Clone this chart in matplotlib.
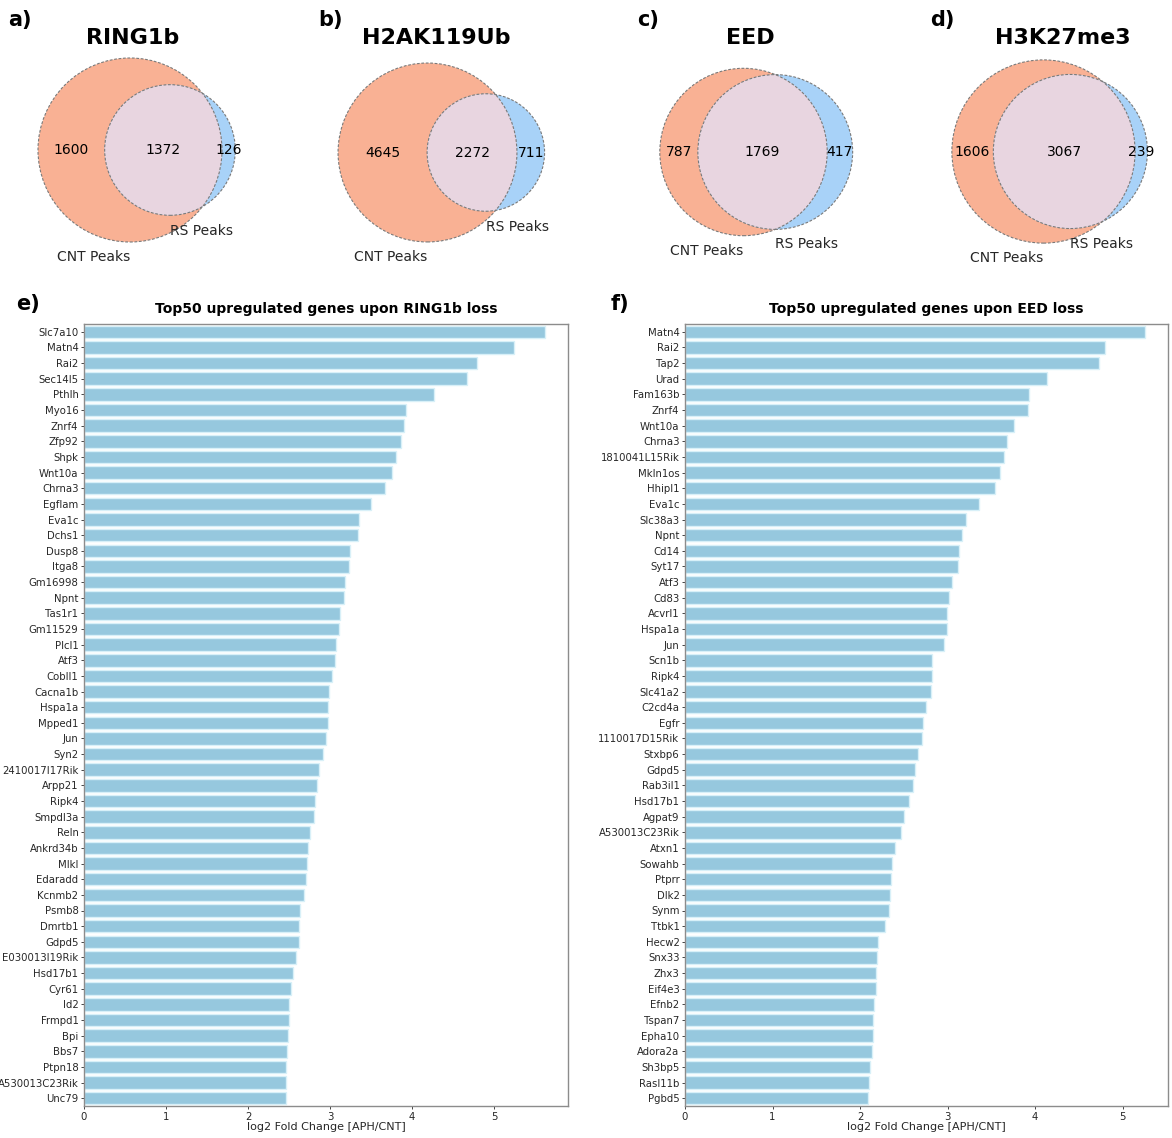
import numpy as np
import matplotlib
matplotlib.use("Agg")
import matplotlib.pyplot as plt
from matplotlib.patches import Circle

# Venn data: CNT-only, shared, RS-only peak counts
venn_titles = ['RING1b', 'H2AK119Ub', 'EED', 'H3K27me3']
venn_letters = ['a)', 'b)', 'c)', 'd)']
cnt_only = [1600, 4645, 787, 1606]
shared = [1372, 2272, 1769, 3067]
rs_only = [126, 711, 417, 239]

# top50 upregulated genes upon RING1b loss
ring1b_genes = ['Slc7a10', 'Matn4', 'Rai2', 'Sec14l5', 'Pthlh', 'Myo16', 'Znrf4', 'Zfp92',
                'Shpk', 'Wnt10a', 'Chrna3', 'Egflam', 'Eva1c', 'Dchs1', 'Dusp8', 'Itga8',
                'Gm16998', 'Npnt', 'Tas1r1', 'Gm11529', 'Plcl1', 'Atf3', 'Cobll1', 'Cacna1b',
                'Hspa1a', 'Mpped1', 'Jun', 'Syn2', '2410017I17Rik', 'Arpp21', 'Ripk4',
                'Smpdl3a', 'Reln', 'Ankrd34b', 'Mlkl', 'Edaradd', 'Kcnmb2', 'Psmb8', 'Dmrtb1',
                'Gdpd5', 'E030013I19Rik', 'Hsd17b1', 'Cyr61', 'Id2', 'Frmpd1', 'Bpi', 'Bbs7',
                'Ptpn18', 'A530013C23Rik', 'Unc79']
ring1b_lfc = [5.62, 5.245, 4.79, 4.665, 4.265, 3.925, 3.905, 3.865,
              3.81, 3.75, 3.665, 3.495, 3.355, 3.34, 3.24, 3.23,
              3.18, 3.17, 3.125, 3.11, 3.07, 3.055, 3.025, 2.985,
              2.98, 2.97, 2.955, 2.91, 2.87, 2.84, 2.82,
              2.81, 2.76, 2.73, 2.72, 2.705, 2.685, 2.63, 2.625,
              2.62, 2.59, 2.545, 2.525, 2.505, 2.5, 2.49, 2.48,
              2.465, 2.465, 2.463]

# top50 upregulated genes upon EED loss
eed_genes = ['Matn4', 'Rai2', 'Tap2', 'Urad', 'Fam163b', 'Znrf4', 'Wnt10a', 'Chrna3',
             '1810041L15Rik', 'Mkln1os', 'Hhipl1', 'Eva1c', 'Slc38a3', 'Npnt', 'Cd14',
             'Syt17', 'Atf3', 'Cd83', 'Acvrl1', 'Hspa1a', 'Jun', 'Scn1b', 'Ripk4', 'Slc41a2',
             'C2cd4a', 'Egfr', '1110017D15Rik', 'Stxbp6', 'Gdpd5', 'Rab3il1', 'Hsd17b1',
             'Agpat9', 'A530013C23Rik', 'Atxn1', 'Sowahb', 'Ptprr', 'Dlk2', 'Synm', 'Ttbk1',
             'Hecw2', 'Snx33', 'Zhx3', 'Eif4e3', 'Efnb2', 'Tspan7', 'Epha10', 'Adora2a',
             'Sh3bp5', 'Rasl11b', 'Pgbd5']
eed_lfc = [5.255, 4.8, 4.73, 4.135, 3.935, 3.915, 3.76, 3.675,
           3.645, 3.595, 3.54, 3.36, 3.215, 3.17, 3.135,
           3.115, 3.05, 3.02, 2.995, 2.99, 2.96, 2.825, 2.82, 2.81,
           2.75, 2.715, 2.705, 2.665, 2.63, 2.61, 2.555,
           2.505, 2.47, 2.4, 2.37, 2.35, 2.34, 2.335, 2.285,
           2.205, 2.195, 2.18, 2.178, 2.16, 2.152, 2.15, 2.14,
           2.115, 2.1, 2.085]

W, H = 1172, 1138
fig = plt.figure(figsize=(W / 100, H / 100), dpi=100)


def px_rect(left, top, width, height):
    return [left / W, 1 - (top + height) / H, width / W, height / H]


def lens_area(r1, r2, d):
    if d >= r1 + r2:
        return 0.0
    if d <= abs(r1 - r2):
        return np.pi * min(r1, r2) ** 2
    a1 = r1 ** 2 * np.arccos((d * d + r1 * r1 - r2 * r2) / (2 * d * r1))
    a2 = r2 ** 2 * np.arccos((d * d + r2 * r2 - r1 * r1) / (2 * d * r2))
    k = 0.5 * np.sqrt((-d + r1 + r2) * (d + r1 - r2) * (d - r1 + r2) * (d + r1 + r2))
    return a1 + a2 - k


def solve_distance(r1, r2, target):
    lo, hi = abs(r1 - r2), r1 + r2
    for _ in range(100):
        mid = (lo + hi) / 2
        if lens_area(r1, r2, mid) > target:
            lo = mid
        else:
            hi = mid
    return (lo + hi) / 2


c_cnt, c_rs, c_both = '#f9b194', '#a8d2f8', '#e8d5e0'


def venn(cx, cy, scale, a_only, ab, b_only):
    # areas normalised to 1, scale = px per unit
    total = a_only + ab + b_only
    ra = np.sqrt((a_only + ab) / total / np.pi)
    rb = np.sqrt((b_only + ab) / total / np.pi)
    d = solve_distance(ra, rb, ab / total)
    x0, x1 = -ra - 0.1, max(ra, d + rb) + 0.1
    y0, y1 = -max(ra, rb) - 0.1, max(ra, rb) + 0.1
    ax = fig.add_axes(px_rect(cx + x0 * scale, cy - y1 * scale,
                              (x1 - x0) * scale, (y1 - y0) * scale))
    ax.set_xlim(x0, x1)
    ax.set_ylim(y0, y1)
    ax.set_aspect('equal')
    ax.axis('off')

    circ_a = Circle((0, 0), ra, facecolor=c_cnt, edgecolor='none')
    ax.add_patch(circ_a)
    ax.add_patch(Circle((d, 0), rb, facecolor=c_rs, edgecolor='none'))
    inter = Circle((d, 0), rb, facecolor=c_both, edgecolor='none')
    ax.add_patch(inter)
    inter.set_clip_path(circ_a)
    for c, r in [(0, ra), (d, rb)]:
        ax.add_patch(Circle((c, 0), r, fill=False, edgecolor='#7a7a7a',
                            linewidth=0.8, linestyle=(0, (2.5, 1.5))))

    ax.text((-ra + d - rb) / 2, 0, str(a_only), ha='center', va='center', fontsize=10)
    ax.text((d - rb + ra) / 2, 0, str(ab), ha='center', va='center', fontsize=10)
    ax.text((ra + d + rb) / 2, 0, str(b_only), ha='center', va='center', fontsize=10)
    ax.text(0, -ra - 0.05, 'CNT Peaks', ha='right', va='top', fontsize=10, color='#262626')
    ax.text(d, -rb - 0.05, 'RS Peaks', ha='left', va='top', fontsize=10, color='#262626')


venn_centers = [(130, 150), (427.5, 152.5), (743.5, 152), (1043.5, 151.5)]
venn_scales = [166.5, 166.5, 160, 166.5]
title_x = [133, 436, 750, 1063]
letter_x = [20, 330, 648, 942]
for i in range(4):
    venn(venn_centers[i][0], venn_centers[i][1], venn_scales[i],
         cnt_only[i], shared[i], rs_only[i])
    fig.text(title_x[i] / W, 1 - 38 / H, venn_titles[i], ha='center', va='center',
             fontsize=16, fontweight='bold')
    fig.text(letter_x[i] / W, 1 - 20 / H, venn_letters[i], ha='center', va='center',
             fontsize=15, fontweight='bold')


def bars(rect, genes, vals, title):
    ax = fig.add_axes(px_rect(*rect))
    y = np.arange(len(genes))
    ax.barh(y, vals, height=0.8, color='#96c8de', edgecolor='#d8f0f8', linewidth=1)
    ax.set_ylim(len(genes) - 0.5, -0.5)
    ax.set_xlim(0, max(vals) * 1.05)
    ax.set_yticks(y)
    ax.set_yticklabels(genes)
    ax.set_xticks(range(0, 6))
    ax.tick_params(labelsize=7.3, colors='#262626', length=2.5, width=0.6, pad=1.5)
    for sp in ax.spines.values():
        sp.set_color('#8c8c8c')
        sp.set_linewidth(1)
    ax.set_xlabel('log2 Fold Change [APH/CNT]', fontsize=8, color='#262626', labelpad=0.5)
    ax.set_title(title, fontsize=10, fontweight='bold', pad=8)
    return ax


bars((84, 324, 484, 782), ring1b_genes, ring1b_lfc, 'Top50 upregulated genes upon RING1b loss')
bars((685, 324, 483, 782), eed_genes, eed_lfc, 'Top50 upregulated genes upon EED loss')
fig.text(28 / W, 1 - 304 / H, 'e)', ha='center', va='center', fontsize=15, fontweight='bold')
fig.text(620 / W, 1 - 304 / H, 'f)', ha='center', va='center', fontsize=15, fontweight='bold')

fig.savefig('out.png', dpi=100)
